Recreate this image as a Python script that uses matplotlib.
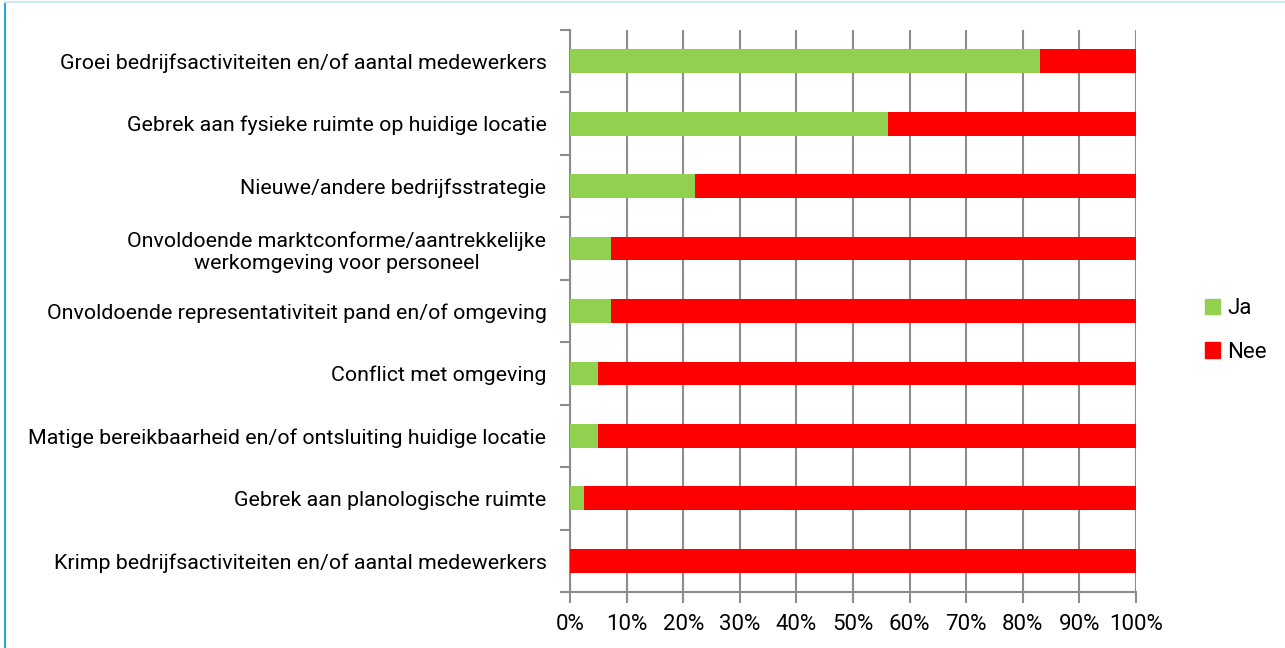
import matplotlib.pyplot as plt
import numpy as np
from matplotlib.lines import Line2D
from matplotlib.ticker import MultipleLocator, PercentFormatter

plt.rcParams['font.family'] = ['Roboto', 'DejaVu Sans']

categories = [
    'Groei bedrijfsactiviteiten en/of aantal medewerkers',
    'Gebrek aan fysieke ruimte op huidige locatie',
    'Nieuwe/andere bedrijfsstrategie',
    'Onvoldoende marktconforme/aantrekkelijke\nwerkomgeving voor personeel',
    'Onvoldoende representativiteit pand en/of omgeving',
    'Conflict met omgeving',
    'Matige bereikbaarheid en/of ontsluiting huidige locatie',
    'Gebrek aan planologische ruimte',
    'Krimp bedrijfsactiviteiten en/of aantal medewerkers',
]
ja = [83.0, 56.1, 22.0, 7.3, 7.3, 4.9, 4.9, 2.4, 0.0]
nee = [17.0, 43.9, 78.0, 92.7, 92.7, 95.1, 95.1, 97.6, 100.0]

green = '#92d050'
red = '#ff0000'
grey = '#8c8c8c'

fig = plt.figure(figsize=(12.85, 6.48), dpi=100)
ax = fig.add_axes([0.4436, 0.0864, 0.4405, 0.8673])

y = np.arange(len(categories))
ax.barh(y, ja, height=0.38, color=green, label='Ja', zorder=3)
ax.barh(y, nee, left=ja, height=0.38, color=red, label='Nee', zorder=3)

ax.set_xlim(0, 100)
ax.set_ylim(len(categories) - 0.5, -0.5)
ax.xaxis.set_major_locator(MultipleLocator(10))
ax.xaxis.set_major_formatter(PercentFormatter(decimals=0))
ax.grid(axis='x', color=grey, linewidth=1.5, zorder=0)

ax.set_yticks(y)
ax.set_yticklabels(categories, fontsize=15.4, multialignment='center')
ax.set_yticks(np.arange(len(categories) + 1) - 0.5, minor=True)
ax.tick_params(axis='y', which='major', length=0, pad=17)
ax.tick_params(axis='y', which='minor', length=7, width=1.5, color=grey)
ax.tick_params(axis='x', length=8, width=1.5, color=grey, labelsize=16, pad=8)

for s in ['top', 'right']:
    ax.spines[s].set_visible(False)
for s in ['left', 'bottom']:
    ax.spines[s].set_color(grey)
    ax.spines[s].set_linewidth(1.5)

handles = [plt.Rectangle((0, 0), 1, 1, color=green), plt.Rectangle((0, 0), 1, 1, color=red)]
fig.legend(handles, ['Ja', 'Nee'], loc='center left', bbox_to_anchor=(0.922, 0.49),
           frameon=False, fontsize=16, handlelength=0.7, handleheight=0.7,
           handletextpad=0.3, labelspacing=1.0)

# blauwe rand links en boven
fig.add_artist(Line2D([0.004, 0.004], [0, 0.997], color='#29a8e0', linewidth=1.5))
fig.add_artist(Line2D([0.004, 1], [0.997, 0.997], color='#cfe9f6', linewidth=1.5))

plt.savefig('out.png')
